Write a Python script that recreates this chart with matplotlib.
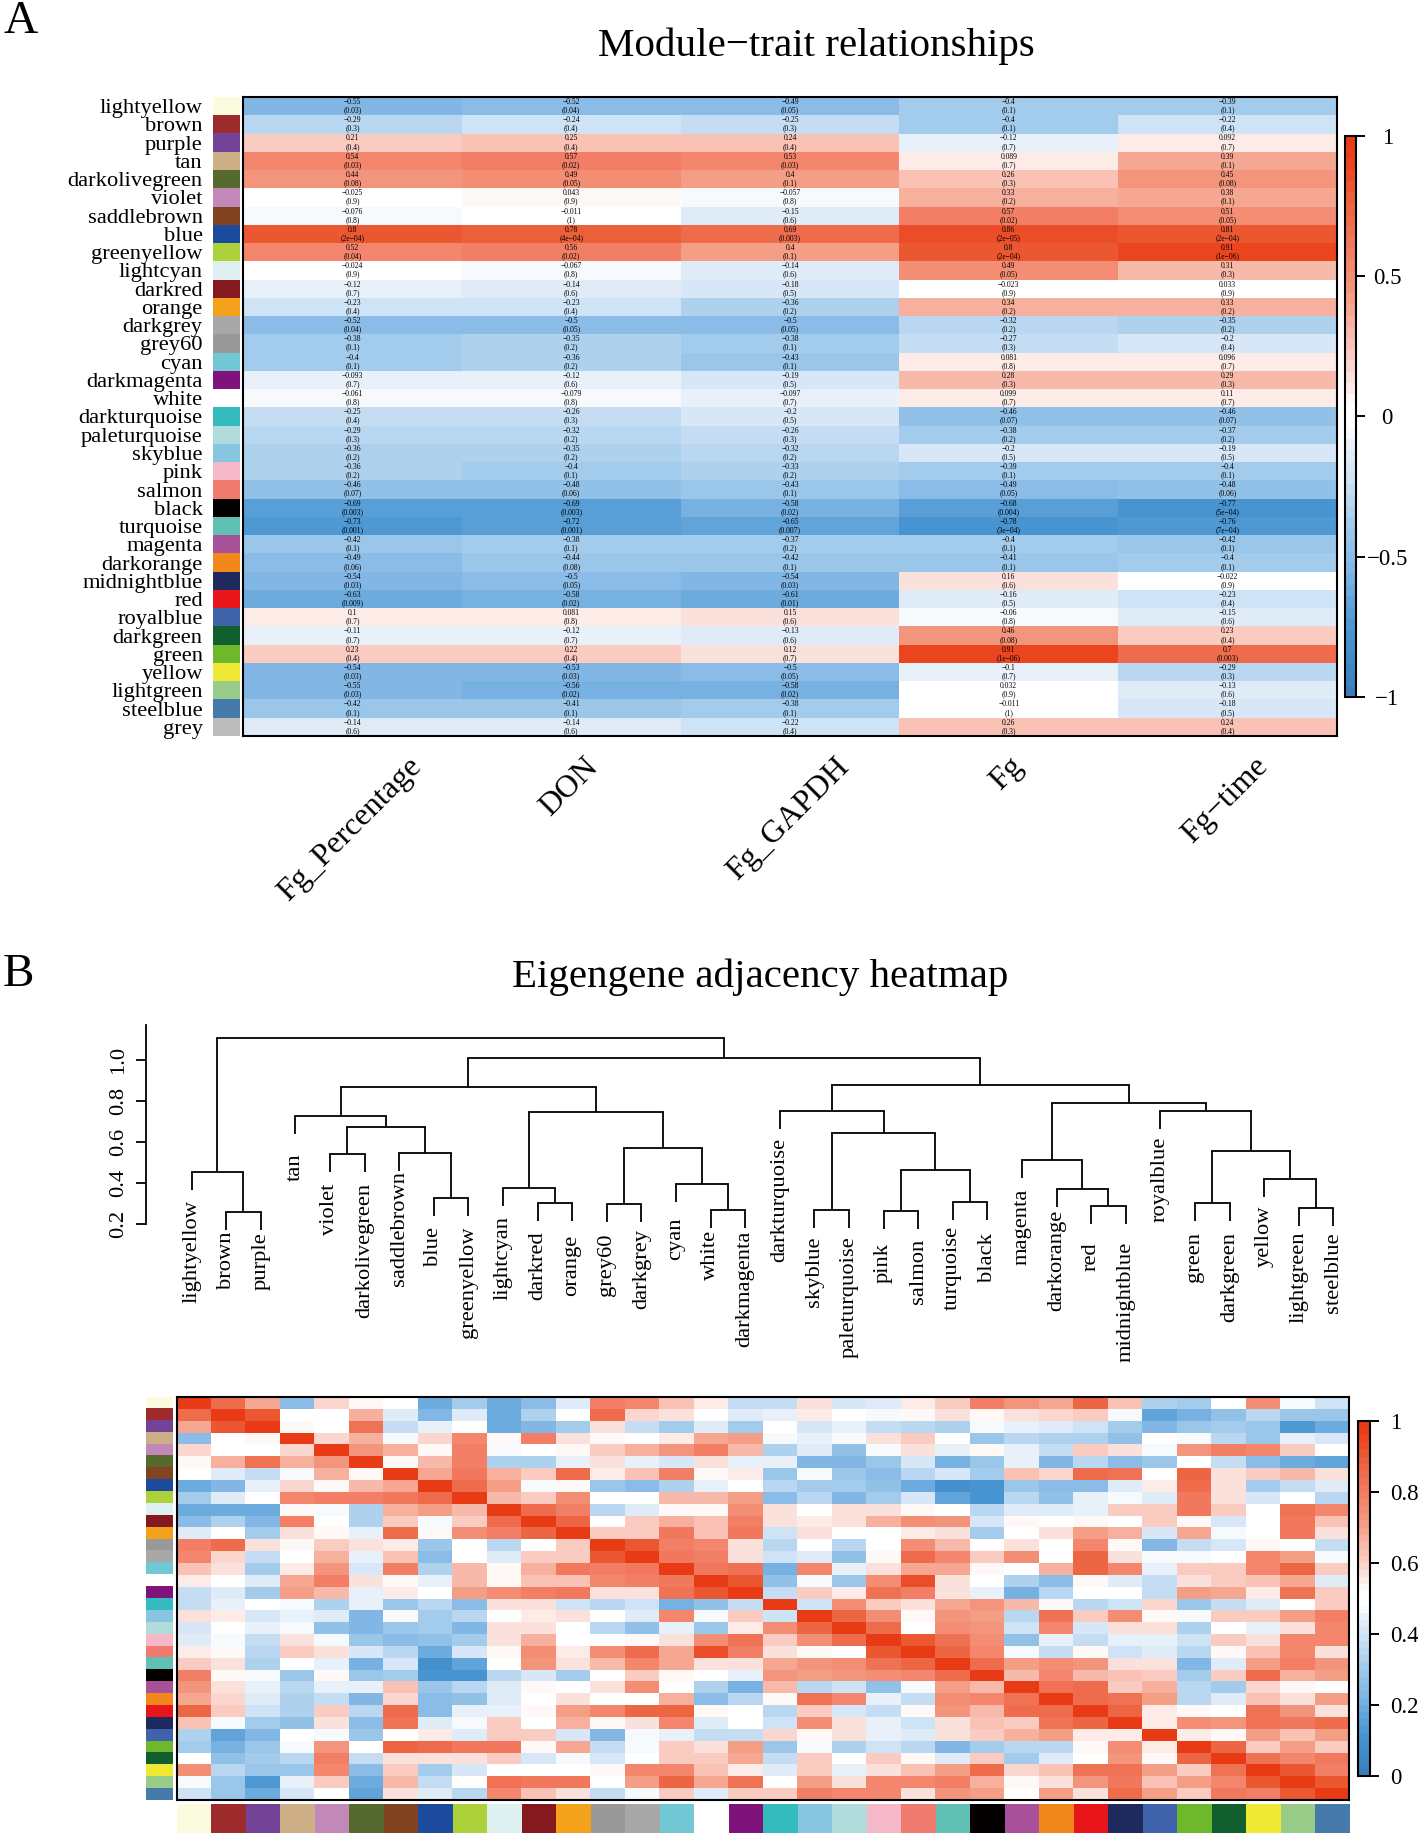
import matplotlib
matplotlib.use("Agg")
import matplotlib.pyplot as plt
import numpy as np
from matplotlib.colors import LinearSegmentedColormap, to_rgba

plt.rcParams["font.family"] = ["Liberation Serif", "DejaVu Serif"]

W, H = 1418, 1835

# panel A
module_names = ["lightyellow", "brown", "purple", "tan", "darkolivegreen", "violet", "saddlebrown",
                "blue", "greenyellow", "lightcyan", "darkred", "orange", "darkgrey", "grey60", "cyan",
                "darkmagenta", "white", "darkturquoise", "paleturquoise", "skyblue", "pink", "salmon",
                "black", "turquoise", "magenta", "darkorange", "midnightblue", "red", "royalblue",
                "darkgreen", "green", "yellow", "lightgreen", "steelblue", "grey"]
traits = ["Fg_Percentage", "DON", "Fg_GAPDH", "Fg", "Fg\u2212time"]

r_percentage = [-0.55, -0.29, 0.21, 0.54, 0.44, -0.025, -0.076, 0.8, 0.52, -0.024, -0.12, -0.23, -0.52,
                -0.38, -0.4, -0.093, -0.061, -0.25, -0.29, -0.36, -0.36, -0.46, -0.69, -0.73, -0.42,
                -0.49, -0.54, -0.63, 0.1, -0.11, 0.23, -0.54, -0.55, -0.42, -0.14]
p_percentage = ["0.03", "0.3", "0.4", "0.03", "0.08", "0.9", "0.8", "2e-04", "0.04", "0.9", "0.7", "0.4",
                "0.04", "0.1", "0.1", "0.7", "0.8", "0.4", "0.3", "0.2", "0.2", "0.07", "0.003", "0.001",
                "0.1", "0.06", "0.03", "0.009", "0.7", "0.7", "0.4", "0.03", "0.03", "0.1", "0.6"]
r_don = [-0.52, -0.24, 0.25, 0.57, 0.49, 0.043, -0.011, 0.78, 0.56, -0.067, -0.14, -0.23, -0.5, -0.35,
         -0.36, -0.12, -0.079, -0.26, -0.32, -0.35, -0.4, -0.48, -0.69, -0.72, -0.38, -0.44, -0.5, -0.58,
         0.081, -0.12, 0.22, -0.53, -0.56, -0.41, -0.14]
p_don = ["0.04", "0.4", "0.4", "0.02", "0.05", "0.9", "1", "4e-04", "0.02", "0.8", "0.6", "0.4", "0.05",
         "0.2", "0.2", "0.6", "0.8", "0.3", "0.2", "0.2", "0.1", "0.06", "0.003", "0.001", "0.1", "0.08",
         "0.05", "0.02", "0.8", "0.7", "0.4", "0.03", "0.02", "0.1", "0.6"]
r_gapdh = [-0.49, -0.25, 0.24, 0.53, 0.4, -0.057, -0.15, 0.69, 0.4, -0.14, -0.18, -0.36, -0.5, -0.38,
           -0.43, -0.19, -0.097, -0.2, -0.26, -0.32, -0.33, -0.43, -0.58, -0.65, -0.37, -0.42, -0.54,
           -0.61, 0.15, -0.13, 0.12, -0.5, -0.58, -0.38, -0.22]
p_gapdh = ["0.05", "0.3", "0.4", "0.03", "0.1", "0.8", "0.6", "0.003", "0.1", "0.6", "0.5", "0.2", "0.05",
           "0.1", "0.1", "0.5", "0.7", "0.5", "0.3", "0.2", "0.2", "0.1", "0.02", "0.007", "0.2", "0.1",
           "0.03", "0.01", "0.6", "0.6", "0.7", "0.05", "0.02", "0.1", "0.4"]
r_fg = [-0.4, -0.4, -0.12, 0.089, 0.26, 0.33, 0.57, 0.86, 0.8, 0.49, -0.023, 0.34, -0.32, -0.27, 0.081,
        0.28, 0.099, -0.46, -0.38, -0.2, -0.39, -0.49, -0.68, -0.78, -0.4, -0.41, 0.16, -0.16, -0.06,
        0.46, 0.91, -0.1, 0.032, -0.011, 0.26]
p_fg = ["0.1", "0.1", "0.7", "0.7", "0.3", "0.2", "0.02", "2e-05", "2e-04", "0.05", "0.9", "0.2", "0.2",
        "0.3", "0.8", "0.3", "0.7", "0.07", "0.2", "0.5", "0.1", "0.05", "0.004", "3e-04", "0.1", "0.1",
        "0.6", "0.5", "0.8", "0.08", "1e-06", "0.7", "0.9", "1", "0.3"]
r_time = [-0.39, -0.22, 0.092, 0.39, 0.45, 0.38, 0.51, 0.81, 0.91, 0.31, 0.033, 0.33, -0.35, -0.2, 0.096,
          0.29, 0.11, -0.46, -0.37, -0.19, -0.4, -0.48, -0.77, -0.76, -0.42, -0.4, -0.022, -0.23, -0.15,
          0.23, 0.7, -0.29, -0.13, -0.18, 0.24]
p_time = ["0.1", "0.4", "0.7", "0.1", "0.08", "0.1", "0.05", "2e-04", "1e-06", "0.3", "0.9", "0.2", "0.2",
          "0.4", "0.7", "0.3", "0.7", "0.07", "0.2", "0.5", "0.1", "0.06", "5e-04", "7e-04", "0.1", "0.1",
          "0.9", "0.4", "0.6", "0.4", "0.003", "0.3", "0.6", "0.5", "0.4"]

module_colors = {
    "lightyellow": "#fbfbe0", "brown": "#9e2b2b", "purple": "#724397", "tan": "#cdae86",
    "darkolivegreen": "#566a2f", "violet": "#c188b8", "saddlebrown": "#824420", "blue": "#1c4a9c",
    "greenyellow": "#add13b", "lightcyan": "#dff0f1", "darkred": "#85191e", "orange": "#f4a11b",
    "darkgrey": "#a9a8a8", "grey60": "#999999", "cyan": "#72c7d4", "darkmagenta": "#80127c",
    "white": "#ffffff", "darkturquoise": "#33bbbd", "paleturquoise": "#b0dcdc", "skyblue": "#88c5e0",
    "pink": "#f5b8c8", "salmon": "#f07a6e", "black": "#050000", "turquoise": "#60c0b4",
    "magenta": "#a8509a", "darkorange": "#f2871c", "midnightblue": "#1e2a5e", "red": "#e8161b",
    "royalblue": "#3f62aa", "darkgreen": "#115e2f", "green": "#6eb82c", "yellow": "#efe935",
    "lightgreen": "#98cc88", "steelblue": "#467aaa", "grey": "#bdbcbc",
}

# panel B: leaf order of the dendrogram
eigen_order = ["lightyellow", "brown", "purple", "tan", "violet", "darkolivegreen", "saddlebrown", "blue",
               "greenyellow", "lightcyan", "darkred", "orange", "grey60", "darkgrey", "cyan", "white",
               "darkmagenta", "darkturquoise", "skyblue", "paleturquoise", "pink", "salmon", "turquoise",
               "black", "magenta", "darkorange", "red", "midnightblue", "royalblue", "green", "darkgreen",
               "yellow", "lightgreen", "steelblue"]

# (height, left, right)
tree = (1.108,
        (0.453, "lightyellow", (0.257, "brown", "purple")),
        (1.011,
         (0.871,
          (0.729, "tan",
           (0.675,
            (0.541, "violet", "darkolivegreen"),
            (0.546, "saddlebrown", (0.326, "blue", "greenyellow")))),
          (0.749,
           (0.378, "lightcyan", (0.301, "darkred", "orange")),
           (0.571,
            (0.298, "grey60", "darkgrey"),
            (0.396, "cyan", (0.267, "white", "darkmagenta"))))),
         (0.881,
          (0.753, "darkturquoise",
           (0.646,
            (0.269, "skyblue", "paleturquoise"),
            (0.463, (0.264, "pink", "salmon"), (0.309, "turquoise", "black")))),
          (0.794,
           (0.513, "magenta", (0.373, "darkorange", (0.29, "red", "midnightblue"))),
           (0.753, "royalblue",
            (0.558,
             (0.303, "green", "darkgreen"),
             (0.422, "yellow", (0.278, "lightgreen", "steelblue"))))))))

# gap between stem end and label, pixels
label_gap_px = {"lightyellow": 10, "brown": 1.5, "purple": 1.5, "tan": 20, "violet": 11, "darkolivegreen": 11,
                "saddlebrown": 0, "blue": 11, "greenyellow": 10, "lightcyan": 10, "darkred": 10, "orange": 13,
                "grey60": 12, "darkgrey": 7, "cyan": 16, "white": 2, "darkmagenta": 2, "darkturquoise": 9,
                "skyblue": 9, "paleturquoise": 8, "pink": 14, "salmon": 10, "turquoise": 6, "black": 13,
                "magenta": 11, "darkorange": 3, "red": 19, "midnightblue": 18, "royalblue": 8, "green": 11,
                "darkgreen": 11, "yellow": 9, "lightgreen": 5, "steelblue": 6}

# upper triangle of the eigengene adjacency, row i holds columns i..33
adj_upper = [
    [1, .84, .68, .25, .59, .53, .5, .18, .31, .18, .25, .42, .78, .76, .63, .54, .37, .37, .57, .4, .43, .54, .61, .79, .73, .68, .87, .63, .33, .31, .5, .74, .47, .39],
    [1, .91, .48, .5, .67, .43, .23, .42, .18, .32, .5, .85, .59, .57, .5, .42, .44, .55, .5, .47, .52, .57, .52, .56, .59, .61, .47, .17, .21, .27, .34, .29, .29],
    [1, .52, .5, .82, .37, .44, .5, .18, .22, .31, .58, .37, .31, .42, .31, .5, .41, .45, .37, .34, .33, .46, .45, .43, .39, .31, .22, .29, .31, .28, .13, .18],
    [1, .59, .67, .47, .59, .76, .52, .78, .58, .53, .5, .54, .68, .7, .47, .44, .46, .58, .6, .5, .28, .34, .32, .32, .26, .5, .46, .34, .28, .45, .4],
    [1, .72, .67, .52, .79, .47, .5, .52, .6, .67, .72, .78, .65, .32, .43, .26, .47, .58, .45, .52, .45, .37, .6, .57, .47, .72, .78, .76, .6, .5],
    [1, .52, .65, .78, .32, .33, .44, .58, .45, .4, .57, .45, .44, .22, .23, .28, .4, .2, .28, .44, .23, .34, .24, .29, .5, .37, .25, .18, .16],
    [1, .68, .81, .67, .6, .84, .54, .63, .78, .52, .55, .28, .47, .28, .25, .34, .4, .3, .63, .59, .85, .82, .5, .87, .56, .6, .65, .56],
    [1, .85, .7, .47, .52, .29, .25, .33, .45, .5, .34, .31, .31, .26, .19, .09, .11, .29, .25, .25, .42, .54, .85, .58, .31, .37, .42],
    [1, .64, .6, .75, .5, .5, .64, .65, .71, .24, .34, .22, .31, .4, .17, .11, .34, .26, .45, .47, .42, .81, .56, .4, .5, .35],
    [1, .84, .79, .34, .43, .52, .52, .75, .58, .5, .56, .58, .52, .48, .35, .43, .43, .44, .6, .6, .81, .61, .5, .82, .76],
    [1, .86, .5, .6, .67, .62, .79, .56, .54, .56, .66, .74, .72, .41, .52, .5, .52, .5, .6, .52, .41, .5, .81, .62],
    [1, .6, .6, .8, .62, .8, .39, .58, .5, .5, .55, .56, .3, .5, .56, .7, .66, .4, .68, .47, .5, .8, .56],
    [1, .9, .78, .76, .58, .34, .5, .34, .5, .74, .65, .5, .56, .5, .76, .52, .23, .37, .4, .52, .5, .37],
    [1, .81, .79, .58, .39, .42, .26, .52, .84, .76, .6, .74, .5, .87, .58, .47, .46, .5, .76, .7, .47],
    [1, .81, .82, .21, .76, .44, .58, .68, .68, .52, .5, .66, .86, .76, .44, .6, .6, .77, .86, .6],
    [1, .9, .26, .47, .29, .74, .92, .56, .48, .32, .25, .52, .42, .37, .58, .6, .62, .68, .43],
    [1, .37, .61, .55, .82, .79, .56, .44, .2, .35, .48, .5, .37, .7, .68, .55, .82, .6],
    [1, .39, .75, .61, .58, .68, .72, .65, .52, .35, .39, .59, .28, .37, .42, .5, .6],
    [1, .87, .75, .52, .73, .71, .35, .82, .61, .74, .52, .47, .6, .6, .7, .78],
    [1, .84, .5, .74, .72, .39, .76, .4, .57, .56, .33, .5, .44, .58, .76],
    [1, .91, .82, .74, .27, .45, .37, .44, .44, .39, .6, .57, .76, .76],
    [1, .87, .76, .47, .37, .53, .39, .42, .34, .52, .62, .76, .56],
    [1, .85, .7, .75, .72, .58, .58, .23, .43, .71, .79, .72],
    [1, .65, .76, .65, .63, .61, .31, .6, .84, .66, .71],
    [1, .82, .84, .6, .66, .34, .3, .59, .52, .5],
    [1, .85, .82, .7, .35, .42, .63, .58, .71],
    [1, .87, .54, .52, .5, .82, .72, .56],
    [1, .54, .74, .73, .82, .81, .85],
    [1, .54, .53, .7, .63, .7],
    [1, .87, .6, .7, .6],
    [1, .82, .76, .81],
    [1, .9, .78],
    [1, .9],
    [1],
]

# blueWhiteRed(50)
cmap_anchors = [(-1.0, "#3a7dbe"), (-0.78, "#4896d2"), (-0.69, "#5da2d8"), (-0.55, "#82b7e5"),
                (-0.4, "#a0caeb"), (-0.24, "#cbe1f5"), (-0.1, "#e8f1fa"), (-0.04, "#ffffff"),
                (0.04, "#ffffff"), (0.1, "#fcece8"), (0.25, "#f9c5b9"), (0.44, "#f39b82"),
                (0.57, "#f38269"), (0.8, "#eb5f3a"), (0.91, "#ea4620"), (1.0, "#e83a14")]
bwr = LinearSegmentedColormap.from_list("bluewhitered", [((r + 1) / 2, c) for r, c in cmap_anchors], N=50)

fig = plt.figure(figsize=(W / 100, H / 100), dpi=100)


def px_axes(left, top, right, bottom):
    return fig.add_axes([left / W, 1 - bottom / H, (right - left) / W, (bottom - top) / H])


def strip(ax, names, vertical=True):
    rgba = np.array([to_rgba(module_colors[n]) for n in names])
    ax.imshow(rgba[:, None, :] if vertical else rgba[None, :, :], aspect="auto", interpolation="nearest")
    ax.axis("off")


def fmt(v):
    return str(v).replace("-", "\u2212")


def side_colorbar(mesh, box, ticks, labels, pad, ha):
    cax = px_axes(*box)
    cb = fig.colorbar(mesh, cax=cax, ticks=ticks)
    cb.ax.set_yticklabels(labels, fontsize=16.5, ha=ha)
    cb.ax.tick_params(length=6.5, width=1.4, pad=pad)
    cb.outline.set_linewidth(1.5)
    return cb


# ---- panel A ----
fig.text(3 / W, 1 - 22 / H, "A", fontsize=34, ha="left", va="center")
fig.text(816 / W, 1 - 46 / H, "Module\u2212trait relationships", fontsize=29.5, ha="center", va="center")

r_matrix = np.array([r_percentage, r_don, r_gapdh, r_fg, r_time]).T
p_matrix = np.array([p_percentage, p_don, p_gapdh, p_fg, p_time]).T

ax = px_axes(243, 97, 1337, 736)
mesh_a = ax.pcolormesh(r_matrix, cmap=bwr, vmin=-1, vmax=1)
ax.set_xlim(0, len(traits))
ax.set_ylim(len(module_names), 0)
for i in range(r_matrix.shape[0]):
    for j in range(r_matrix.shape[1]):
        ax.text(j + 0.5, i + 0.5, fmt(r_matrix[i, j]) + "\n(" + fmt(p_matrix[i, j]) + ")",
                fontsize=5.5, ha="center", va="center", linespacing=1.05, color="black")
ax.set_yticks(np.arange(len(module_names)) + 0.5, module_names, fontsize=16.2)
ax.tick_params(axis="y", length=0, pad=29)
ax.set_xticks([])
for s in ax.spines.values():
    s.set_linewidth(1.5)
for j, name in enumerate(traits):
    ax.annotate(name, xy=(j + 0.5, len(module_names)), xytext=(-2, -16), textcoords="offset pixels",
                rotation=45, ha="center", va="top", fontsize=23, annotation_clip=False)

strip(px_axes(213, 97, 240, 736), module_names)
side_colorbar(mesh_a, (1345, 136, 1356, 697), [-1, -0.5, 0, 0.5, 1],
              ["\u22121", "\u22120.5", "0", "0.5", "1"], 16, "center")

# ---- panel B ----
fig.text(3 / W, 1 - 975 / H, "B", fontsize=34, ha="left", va="center")
fig.text(760 / W, 1 - 977 / H, "Eigengene adjacency heatmap", fontsize=29.5, ha="center", va="center")

# dendrogram
leaf_x0, leaf_step = 191.5, 34.6
dax = px_axes(146, 1025, 1349, 1224)
dax.set_xlim((146 - leaf_x0) / leaf_step, (1349 - leaf_x0) / leaf_step)
dax.set_ylim(0.2, 1.173)
hang = 0.088
px_per_unit = 204


def draw_node(node):
    if isinstance(node, str):
        return eigen_order.index(node), None
    height, left, right = node
    xs = []
    for child in (left, right):
        x, h = draw_node(child)
        if h is None:
            dax.plot([x, x], [height, height - hang], color="black", lw=1.3, clip_on=False,
                     solid_capstyle="butt")
            dax.text(x, height - hang - label_gap_px[child] / px_per_unit, child, rotation=90,
                     ha="center", va="top", fontsize=16.2, clip_on=False)
        else:
            dax.plot([x, x], [height, h], color="black", lw=1.3, clip_on=False, solid_capstyle="butt")
        xs.append(x)
    dax.plot(xs, [height, height], color="black", lw=1.3, clip_on=False, solid_capstyle="projecting")
    return sum(xs) / 2, height


draw_node(tree)
for side in ("top", "right", "bottom"):
    dax.spines[side].set_visible(False)
dax.spines["left"].set_linewidth(1.3)
dax.set_xticks([])
dax.set_yticks([0.2, 0.4, 0.6, 0.8, 1.0], ["0.2", "0.4", "0.6", "0.8", "1.0"], rotation=90, va="center",
               fontsize=16.2)
dax.tick_params(axis="y", length=7, width=1.3, pad=6)
dax.patch.set_alpha(0)

# adjacency heatmap
n = len(eigen_order)
adj = np.zeros((n, n))
for i, row in enumerate(adj_upper):
    adj[i, i:] = row
    adj[i:, i] = row

hax = px_axes(176.5, 1397, 1349, 1800)
mesh_b = hax.pcolormesh(adj, cmap=bwr, vmin=0, vmax=1)
hax.set_xlim(0, n)
hax.set_ylim(n, 0)
hax.set_xticks([])
hax.set_yticks([])
for s in hax.spines.values():
    s.set_linewidth(1.5)

strip(px_axes(146, 1397, 173, 1800), eigen_order)
strip(px_axes(176.5, 1804, 1349, 1833), eigen_order, vertical=False)
side_colorbar(mesh_b, (1358, 1421, 1369.5, 1776), [0, 0.2, 0.4, 0.6, 0.8, 1],
              ["0", "0.2", "0.4", "0.6", "0.8", "1"], 8, "left")

fig.savefig("out.png", dpi=100)
